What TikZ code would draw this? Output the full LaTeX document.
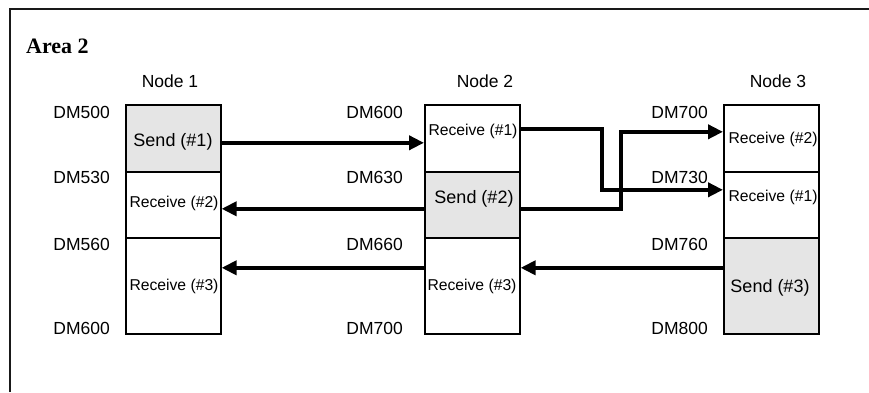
\documentclass[tikz,border=0pt]{standalone}
\usepackage{fontspec}
\setmainfont{Liberation Sans}
\newfontfamily\areafont{Liberation Serif}
\usetikzlibrary{arrows.meta,calc}
\begin{document}
\begin{tikzpicture}[x=1pt,y=-1pt,
  cell/.style={draw=black,line width=1.6pt,minimum width=95pt,inner sep=0pt,anchor=north west},
  sendcell/.style={cell,fill=gray!20},
  dm/.style={font=\fontsize{17.5}{20}\selectfont,anchor=east,inner sep=0pt},
  hdr/.style={font=\fontsize{17.5}{20}\selectfont,inner sep=0pt},
  rtxt/.style={font=\fontsize{15.7}{18}\selectfont,inner sep=0pt},
  stxt/.style={font=\fontsize{18}{20}\selectfont,inner sep=0pt},
  flow/.style={line width=4.2pt,-{Triangle[length=15pt,width=14pt]}},
  framestyle/.style={line width=2pt,draw=black!90}
]
\useasboundingbox (0,0) rectangle (869,392);
% frame
\coordinate (fbl) at (10,392);
\coordinate (ftl) at (10,8.5);
\coordinate (ftr) at (869,8.5);
\draw[framestyle] (fbl) -- (ftl) -- (ftr);
\node[anchor=west,inner sep=0pt,font=\areafont\bfseries\fontsize{22}{24}\selectfont] (area) at (26,46) {Area 2};

% headers
\node[hdr] (h1) at (170,81) {Node 1};
\node[hdr] (h2) at (485,81) {Node 2};
\node[hdr] (h3) at (778,81) {Node 3};

% cells
\node[sendcell,minimum height=67pt] (n1a) at (125,104) {};
\node[cell,minimum height=66pt] (n1b) at (125,171) {};
\node[cell,minimum height=96pt] (n1c) at (125,237) {};
\node[cell,minimum height=67pt] (n2a) at (424,104) {};
\node[sendcell,minimum height=66pt] (n2b) at (424,171) {};
\node[cell,minimum height=96pt] (n2c) at (424,237) {};
\node[cell,minimum height=67pt] (n3a) at (723,104) {};
\node[cell,minimum height=66pt] (n3b) at (723,171) {};
\node[sendcell,minimum height=96pt] (n3c) at (723,237) {};

% cell texts
\node[stxt] (t1a) at (173,142) {Send (\#1)};
\node[rtxt] (t1b) at (174,203) {Receive (\#2)};
\node[rtxt] (t1c) at (174,286) {Receive (\#3)};
\node[rtxt] (t2a) at (473,131) {Receive (\#1)};
\node[stxt] (t2b) at (474,199) {Send (\#2)};
\node[rtxt] (t2c) at (472,286) {Receive (\#3)};
\node[rtxt] (t3a) at (773,139) {Receive (\#2)};
\node[rtxt] (t3b) at (773,197) {Receive (\#1)};
\node[stxt] (t3c) at (770,288) {Send (\#3)};

% DM labels
\node[dm] (d11) at (110,112) {DM500};
\node[dm] (d12) at (110,177) {DM530};
\node[dm] (d13) at (110,244) {DM560};
\node[dm] (d14) at (110,328) {DM600};
\node[dm] (d21) at (403,112) {DM600};
\node[dm] (d22) at (403,177) {DM630};
\node[dm] (d23) at (403,244) {DM660};
\node[dm] (d24) at (403,328) {DM700};
\node[dm] (d31) at (708,112) {DM700};
\node[dm] (d32) at (708,177) {DM730};
\node[dm] (d33) at (708,244) {DM760};
\node[dm] (d34) at (708,328) {DM800};

% flows
\draw[flow] ([yshift=-4.5pt]n1a.east) -- ([yshift=-4.5pt]n2a.west);
\draw[flow] ([yshift=9.5pt]n2a.east) -- ++(81,0) |- ([yshift=15pt]n3b.west);
\draw[flow] ([yshift=-4pt]n2b.east) -- ++(100,0) |- ([yshift=6.5pt]n3a.west);
\draw[flow] ([yshift=-4pt]n2b.west) -- ([yshift=-4pt]n1b.east);
\draw[flow] ([yshift=18pt]n3c.west) -- ([yshift=18pt]n2c.east);
\draw[flow] ([yshift=18pt]n2c.west) -- ([yshift=18pt]n1c.east);
\end{tikzpicture}
\end{document}
